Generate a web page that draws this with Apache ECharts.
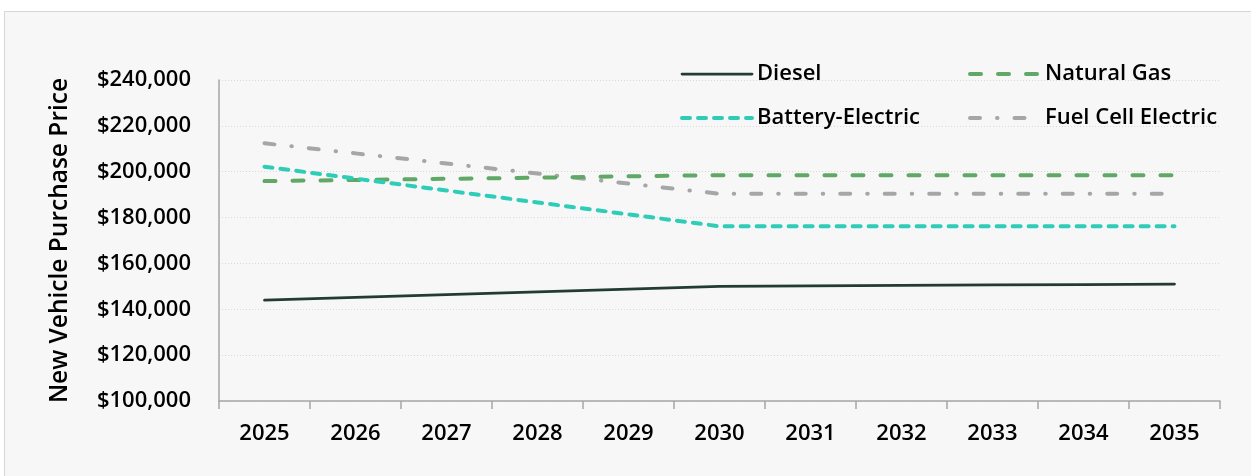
<!DOCTYPE html>
<html>
<head>
<meta charset="utf-8">
<script src="https://cdn.jsdelivr.net/npm/echarts@6/dist/echarts.min.js"></script>
<style>
  html, body { margin: 0; padding: 0; background: #ffffff; }
  #panel { position: absolute; left: 4px; top: 11px; width: 1270px; height: 490px; background: #f7f7f7; border: 1px solid #d6d6d6; }
  #chart { position: absolute; left: 0; top: 0; width: 1251px; height: 476px; }
</style>
</head>
<body>
<div id="panel"></div>
<div id="chart"></div>
<script>
const years = ['2025','2026','2027','2028','2029','2030','2031','2032','2033','2034','2035'];
const diesel = [144000,145200,146400,147600,148800,150000,150200,150400,150600,150800,151000];
const naturalGas = [195900,196400,196900,197400,198000,198500,198500,198500,198500,198500,198500];
const batteryElectric = [202200,197000,191800,186600,181400,176200,176200,176200,176200,176200,176200];
const fuelCellElectric = [212400,208000,203600,199200,194800,190400,190400,190400,190400,190400,190400];
const yTicks = { min: 100000, max: 240000, interval: 20000 };
const yTitle = 'New Vehicle Purchase Price';

const font = '"Open Sans", "Noto Sans", sans-serif';
const chart = echarts.init(document.getElementById('chart'), null, { renderer: 'canvas' });

const styles = {
  'Diesel': { color: '#233c33', width: 2.75, type: 'solid', cap: 'round' },
  'Natural Gas': { color: '#5fa865', width: 4, type: [11, 17], cap: 'round' },
  'Battery-Electric': { color: '#2ecdb7', width: 4, type: [8, 8], cap: 'round' },
  'Fuel Cell Electric': { color: '#a6a6a6', width: 4, type: [10, 17, 0.5, 17], cap: 'round' }
};

const legendCommon = {
  orient: 'vertical',
  itemWidth: 70,
  itemHeight: 20,
  itemGap: 22,
  textStyle: { fontFamily: font, fontSize: 22, fontWeight: 600, color: '#000' },
  itemStyle: { opacity: 0 },
  selectedMode: false
};
const legendItem = name => ({ name: name, lineStyle: Object.assign({}, styles[name]) });

chart.setOption({
  backgroundColor: 'transparent',
  animation: false,
  textStyle: { fontFamily: font },
  grid: { left: 219, right: 31, top: 80, bottom: 75, containLabel: false },
  legend: [
    Object.assign({}, legendCommon, { left: 675, top: 58, data: [legendItem('Diesel'), legendItem('Battery-Electric')] }),
    Object.assign({}, legendCommon, { left: 963, top: 58, data: [legendItem('Natural Gas'), legendItem('Fuel Cell Electric')] })
  ],
  xAxis: {
    type: 'category',
    data: years,
    boundaryGap: true,
    axisLine: { show: true, lineStyle: { color: '#a6a6a6', width: 1.5 } },
    axisTick: { show: true, length: 8, lineStyle: { color: '#a6a6a6', width: 1.5 } },
    axisLabel: { fontFamily: font, fontSize: 22, fontWeight: 600, color: '#000', margin: 22 },
    splitLine: { show: false }
  },
  yAxis: {
    type: 'value',
    min: yTicks.min, max: yTicks.max, interval: yTicks.interval,
    name: yTitle,
    nameLocation: 'middle',
    nameGap: 146,
    nameRotate: 90,
    nameTextStyle: { fontFamily: font, fontSize: 24.5, fontWeight: 600, color: '#000' },
    axisLine: { show: true, lineStyle: { color: '#a6a6a6', width: 1.5 } },
    axisTick: { show: false },
    axisLabel: {
      fontFamily: font, fontSize: 22, fontWeight: 600, color: '#000', margin: 28,
      formatter: v => '$' + v.toLocaleString('en-US')
    },
    splitLine: { show: true, lineStyle: { color: '#d9d9d9', width: 1, type: [1, 2] } }
  },
  series: [
    { name: 'Diesel', type: 'line', data: diesel, symbol: 'none', z: 5,
      lineStyle: styles['Diesel'], itemStyle: { color: styles['Diesel'].color } },
    { name: 'Natural Gas', type: 'line', data: naturalGas, symbol: 'none', z: 3,
      lineStyle: styles['Natural Gas'], itemStyle: { color: styles['Natural Gas'].color } },
    { name: 'Battery-Electric', type: 'line', data: batteryElectric, symbol: 'none', z: 4,
      lineStyle: styles['Battery-Electric'], itemStyle: { color: styles['Battery-Electric'].color } },
    { name: 'Fuel Cell Electric', type: 'line', data: fuelCellElectric, symbol: 'none', z: 2,
      lineStyle: styles['Fuel Cell Electric'], itemStyle: { color: styles['Fuel Cell Electric'].color } }
  ]
});
</script>
</body>
</html>
